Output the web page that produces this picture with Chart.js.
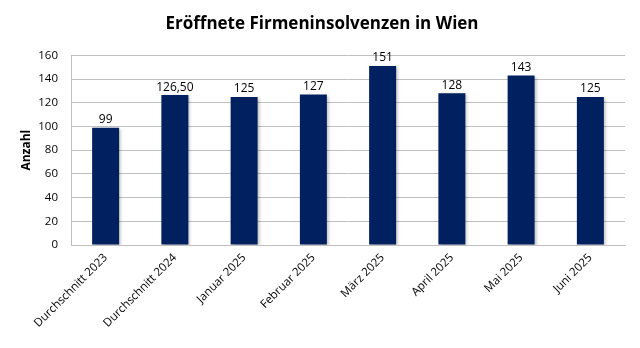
<!DOCTYPE html>
<html><head><meta charset="utf-8">
<script src="https://cdn.jsdelivr.net/npm/chart.js@4/dist/chart.umd.min.js"></script>
<style>html,body{margin:0;padding:0;background:#fff}#w{width:640px;height:348px}</style>
</head><body><div id="w"><canvas id="c"></canvas></div>
<script>
const categories = ["Durchschnitt 2023","Durchschnitt 2024","Januar 2025","Februar 2025","März 2025","April 2025","Mai 2025","Juni 2025"];
const values = [99, 126.5, 125, 127, 151, 128, 143, 125];
const valueLabels = ["99","126,50","125","127","151","128","143","125"];
const yTicks = [0,20,40,60,80,100,120,140,160];

const FONT = "'Open Sans', sans-serif";

const labelPlugin = {
  id: 'vlabels',
  beforeDatasetsDraw(chart){
    const ctx = chart.ctx; ctx.save();
    ctx.shadowColor = 'rgba(0,0,0,0.25)'; ctx.shadowBlur = 3; ctx.shadowOffsetX = 2; ctx.shadowOffsetY = 1;
  },
  afterDatasetsDraw(chart){
    const ctx = chart.ctx; ctx.restore();
    const meta = chart.getDatasetMeta(0);
    ctx.save();
    ctx.font = "12px " + FONT; ctx.fillStyle = '#000'; ctx.textAlign = 'center'; ctx.textBaseline = 'bottom';
    meta.data.forEach((bar,i)=>{ ctx.fillText(valueLabels[i], bar.x, bar.y - 2); });
    ctx.restore();
  }
};

new Chart(document.getElementById('c'), {
  type: 'bar',
  data: { labels: categories, datasets: [{ data: values, backgroundColor: '#002060', borderWidth: 0, categoryPercentage: 1, barPercentage: 0.39 }] },
  options: {
    responsive: true, maintainAspectRatio: false, animation: false,
    layout: { padding: { top: 0, right: 15, left: 19, bottom: 0 } },
    plugins: {
      legend: { display: false }, tooltip: { enabled: false },
      title: { display: true, text: 'Eröffnete Firmeninsolvenzen in Wien', color: '#000', font: { family: FONT, size: 17, weight: 'bold' }, padding: { top: 14, bottom: 21 } }
    },
    scales: {
      x: {
        grid: { display: false, drawTicks: false },
        border: { display: true, color: '#bfbfbf' },
        ticks: { color: '#000', font: { family: FONT, size: 11.5 }, maxRotation: 45, minRotation: 45, padding: 6, autoSkip: false },
        afterFit(s){ s.height = 103; }
      },
      y: {
        min: 0, max: 160,
        afterBuildTicks(s){ s.ticks = yTicks.map(v=>({value:v})); },
        grid: { color: '#bfbfbf', drawTicks: false },
        border: { display: true, color: '#bfbfbf' },
        ticks: { color: '#000', font: { family: FONT, size: 11.5 }, padding: 13 },
        title: { display: true, text: 'Anzahl', color: '#000', font: { family: FONT, size: 12, weight: 'bold' }, padding: { top: 0, bottom: 6 } },
        afterFit(s){ s.width = 52; }
      }
    }
  },
  plugins: [labelPlugin]
});
</script></body></html>
